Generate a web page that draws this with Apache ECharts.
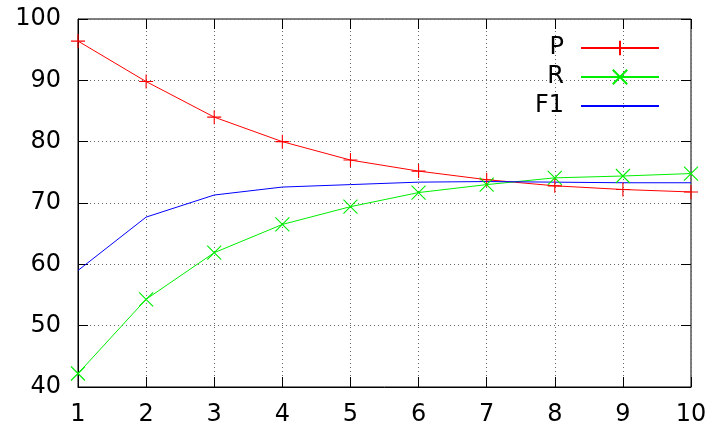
<!DOCTYPE html>
<html><head><meta charset="utf-8">
<script src="https://cdn.jsdelivr.net/npm/echarts@6/dist/echarts.min.js"></script>
<style>html,body{margin:0;padding:0;background:#fff}#c{width:710px;height:431px}</style>
</head><body><div id="c"></div>
<script>
const xs = [1,2,3,4,5,6,7,8,9,10];
const P  = [96.4, 89.8, 84.0, 80.0, 77.0, 75.2, 73.8, 72.8, 72.2, 71.8];
const R  = [42.2, 54.3, 61.9, 66.5, 69.4, 71.7, 73.0, 74.1, 74.4, 74.8];
const F1 = [59.0, 67.7, 71.3, 72.6, 73.0, 73.4, 73.5, 73.4, 73.3, 73.3];
const yTicks = [40,50,60,70,80,90,100];

const font = 'DejaVu Sans';
const pair = arr => xs.map((x,i)=>[x, arr[i]]);
const plus = 'path://M0,-1L0,1M-1,0L1,0';
const cross = 'path://M-1,-1L1,1M-1,1L1,-1';
const grid = {left:78, top:19, right:19, bottom:44, show:true, borderColor:'#000', borderWidth:1};
const tick = {show:true, inside:true, length:10, lineStyle:{color:'#000', width:1}};
const split = {show:true, lineStyle:{color:'#666', type:[1,3], width:1}};

const chart = echarts.init(document.getElementById('c'), null, {renderer:'canvas'});
chart.setOption({
  animation:false,
  grid: grid,
  xAxis: [
    {type:'value', min:1, max:10, interval:1, position:'bottom',
     axisLine:{show:true, lineStyle:{color:'#000'}}, axisTick:tick, splitLine:split,
     axisLabel:{color:'#000', fontFamily:font, fontSize:24, margin:16}},
    {type:'value', min:1, max:10, interval:1, position:'top',
     axisLine:{show:false}, axisTick:tick, splitLine:{show:false}, axisLabel:{show:false}}
  ],
  yAxis: [
    {type:'value', min:40, max:100, interval:10, position:'left',
     axisLine:{show:true, lineStyle:{color:'#000'}}, axisTick:tick, splitLine:split,
     axisLabel:{color:'#000', fontFamily:font, fontSize:24, margin:17,
       formatter: v => yTicks.includes(v) ? String(v) : ''}},
    {type:'value', min:40, max:100, interval:10, position:'right',
     axisLine:{show:false}, axisTick:tick, splitLine:{show:false}, axisLabel:{show:false}}
  ],
  legend: {
    orient:'vertical', right:45, top:31, align:'right', itemWidth:78, itemHeight:18, itemGap:5,
    textStyle:{fontFamily:font, fontSize:24, color:'#000', padding:[0,12,0,0]},
    data:['P','R',{name:'F1', itemStyle:{opacity:0}}]
  },
  series: [
    {name:'P', type:'line', data:pair(P), symbol:plus, symbolSize:14,
     lineStyle:{color:'#ff0000', width:1}, itemStyle:{color:'#ff0000', borderColor:'#ff0000', borderWidth:1.1}},
    {name:'R', type:'line', data:pair(R), symbol:cross, symbolSize:14,
     lineStyle:{color:'#00ee00', width:1}, itemStyle:{color:'#00ee00', borderColor:'#00ee00', borderWidth:1.1}},
    {name:'F1', type:'line', data:pair(F1), symbol:'none', showSymbol:false,
     lineStyle:{color:'#0000ff', width:1}, itemStyle:{color:'#0000ff'}}
  ]
});
</script></body></html>
